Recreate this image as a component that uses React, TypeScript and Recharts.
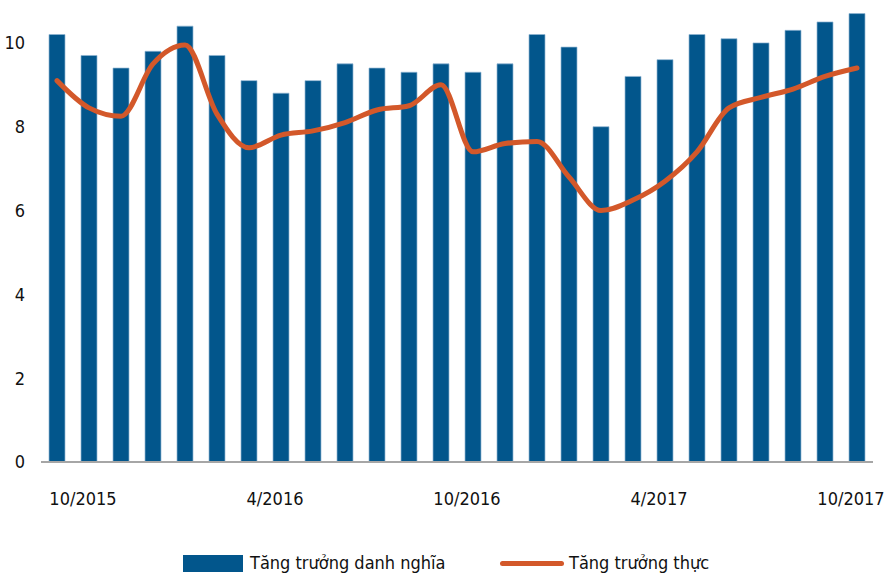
import React from 'react';
import { ComposedChart, Bar, Line, XAxis, YAxis, Legend } from 'recharts';

// Thang 9/2015 -> 10/2017
const months = [
  '9/2015', '10/2015', '11/2015', '12/2015', '1/2016', '2/2016', '3/2016', '4/2016', '5/2016',
  '6/2016', '7/2016', '8/2016', '9/2016', '10/2016', '11/2016', '12/2016', '1/2017', '2/2017',
  '3/2017', '4/2017', '5/2017', '6/2017', '7/2017', '8/2017', '9/2017', '10/2017',
];
const nominal = [
  10.2, 9.7, 9.4, 9.8, 10.4, 9.7, 9.1, 8.8, 9.1, 9.5, 9.4, 9.3, 9.5,
  9.3, 9.5, 10.2, 9.9, 8.0, 9.2, 9.6, 10.2, 10.1, 10.0, 10.3, 10.5, 10.7,
];
const real = [
  9.1, 8.45, 8.25, 9.5, 9.95, 8.3, 7.5, 7.8, 7.9, 8.1, 8.4, 8.5, 9.0,
  7.4, 7.6, 7.65, 6.8, 6.0, 6.25, 6.7, 7.4, 8.45, 8.7, 8.9, 9.2, 9.4,
];
const tickLabels = ['10/2015', '4/2016', '10/2016', '4/2017', '10/2017'];
const yTicks = [0, 2, 4, 6, 8, 10];

const data = months.map((m, i) => ({ month: m, nominal: nominal[i], real: real[i] }));

const FONT = '"DejaVu Sans Condensed", "Liberation Sans Narrow", sans-serif';
const BAR_COLOR = '#02568c';
const LINE_COLOR = '#d3582a';

const renderLegend = () => (
  <div style={{ position: 'relative', height: 24, fontFamily: FONT, fontSize: 18, color: '#111' }}>
    <div style={{ position: 'absolute', left: 183, top: 4, width: 60, height: 17, background: BAR_COLOR }} />
    <div style={{ position: 'absolute', left: 250, top: 0, lineHeight: '24px' }}>Tăng trưởng danh nghĩa</div>
    <div style={{ position: 'absolute', left: 500, top: 10, width: 64, height: 5, borderRadius: 3, background: LINE_COLOR }} />
    <div style={{ position: 'absolute', left: 569, top: 0, lineHeight: '24px' }}>Tăng trưởng thực</div>
  </div>
);

const App: React.FC = () => {
  return (
    <div style={{ position: 'absolute', left: 0, top: 0, width: 885, height: 575, background: '#fff' }}>
      <ComposedChart
        width={885}
        height={575}
        data={data}
        margin={{ top: 1, right: 12, left: 0, bottom: 29 }}
      >
        <XAxis
          dataKey="month"
          interval={0}
          height={60}
          tickLine={false}
          axisLine={{ stroke: '#a6a6a6', strokeWidth: 2 }}
          tickMargin={24}
          tick={{ fontFamily: FONT, fontSize: 18, fill: '#111', dx: -6 }}
          tickFormatter={(v: string) => (tickLabels.includes(v) ? v : '')}
        />
        <YAxis
          domain={[0, 11]}
          ticks={yTicks}
          width={41}
          tickLine={false}
          axisLine={false}
          tickMargin={10}
          tick={{ fontFamily: FONT, fontSize: 18, fill: '#111' }}
        />
        <Legend content={renderLegend} wrapperStyle={{ top: 551, left: 0, width: 885 }} />
        <Bar
          dataKey="nominal"
          name="Tăng trưởng danh nghĩa"
          fill={BAR_COLOR}
          stroke="#8fb4d2"
          strokeWidth={0.7}
          barSize={16}
          isAnimationActive={false}
        />
        <Line
          type="monotone"
          dataKey="real"
          name="Tăng trưởng thực"
          stroke={LINE_COLOR}
          strokeWidth={5}
          strokeLinecap="round"
          dot={false}
          activeDot={false}
          isAnimationActive={false}
        />
      </ComposedChart>
    </div>
  );
};

export default App;
